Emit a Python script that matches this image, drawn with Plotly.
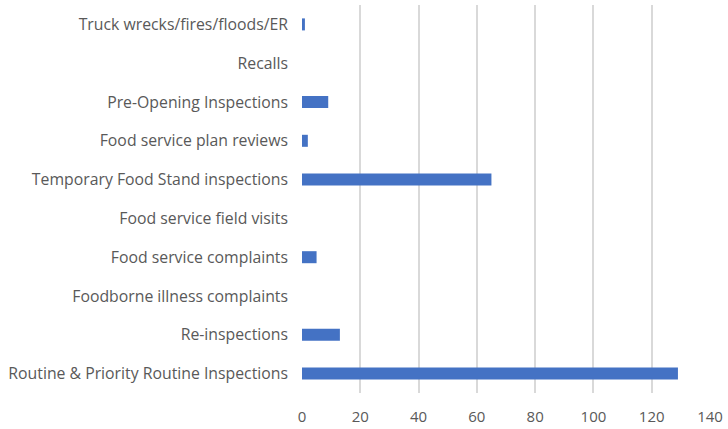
import plotly.graph_objects as go

categories = [
    "Routine & Priority Routine Inspections",
    "Re-inspections",
    "Foodborne illness complaints",
    "Food service complaints",
    "Food service field visits",
    "Temporary Food Stand inspections",
    "Food service plan reviews",
    "Pre-Opening Inspections",
    "Recalls",
    "Truck wrecks/fires/floods/ER",
]
counts = [129, 13, 0, 5, 0, 65, 2, 9, 0, 1]
x_ticks = [0, 20, 40, 60, 80, 100, 120, 140]

fig = go.Figure()

fig.add_trace(go.Bar(
    y=categories,
    x=counts,
    orientation='h',
    marker=dict(color='#4472C4', line=dict(width=0)),
))

fig.update_layout(
    width=728,
    height=429,
    margin=dict(l=302, r=18, t=5, b=36),
    plot_bgcolor='white',
    paper_bgcolor='white',
    bargap=0.69,
    showlegend=False,
    font=dict(family="Open Sans", size=15, color='#595959'),
    xaxis=dict(
        range=[0, 140],
        tickvals=x_ticks,
        showgrid=True,
        gridcolor='#d9d9d9',
        gridwidth=2,
        zeroline=False,
        showline=False,
        ticks='outside',
        ticklen=10,
        tickcolor='rgba(0,0,0,0)',
        tickfont=dict(size=15),
        automargin=False,
    ),
    yaxis=dict(
        showgrid=False,
        zeroline=False,
        showline=False,
        ticklabelstandoff=13,
        tickfont=dict(size=15.8),
        automargin=False,
    ),
)

# drop the default page margin so the figure sits at the window's corner
fig.write_html(
    "out.html",
    config={"displayModeBar": False},
    post_script="document.body.style.margin='0';",
)
